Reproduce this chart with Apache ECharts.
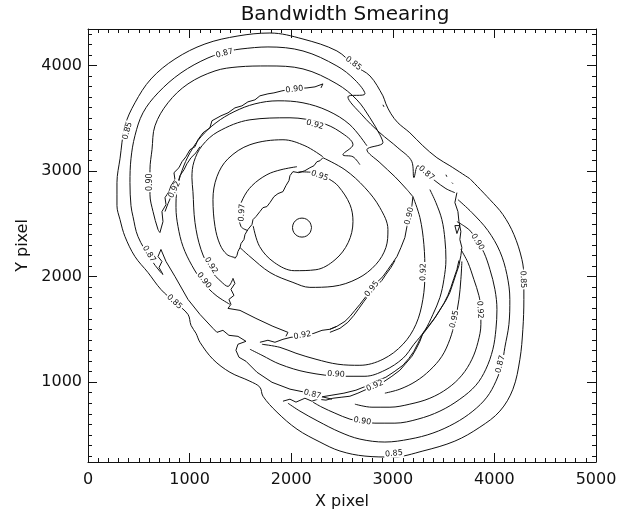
<!DOCTYPE html>
<html><head><meta charset="utf-8">
<script src="https://cdn.jsdelivr.net/npm/echarts@6/dist/echarts.min.js"></script>
<style>html,body{margin:0;padding:0;background:#fff}#c{width:630px;height:515px}</style>
</head><body><div id="c"></div>
<script>
const titleText = 'Bandwidth Smearing';
const xName = 'X pixel';
const yName = 'Y pixel';
const xRange = [0, 5000];
const yRange = [244, 4345];

// contour polylines, data coordinates [x, y]
const c085_outer = [[3759,2927],[3562,3050],[3434,3126],[3296,3239],[3168,3362],[3050,3457],[2982,3542],[2932,3636],[2903,3712],[2775,3901],[2627,3995],[2450,4137],[2116,4250],[1791,4307],[1476,4279],[1151,4203],[856,4061],[620,3872],[462,3646],[364,3428],[315,3116],[285,2890],[285,2672],[315,2540],[364,2379],[462,2190],[590,2039],[718,1878],[856,1756],[984,1642],[1014,1538],[1063,1463],[1102,1378],[1230,1217],[1397,1094],[1594,1009],[1692,952],[1722,867],[1860,716],[2057,555],[2283,433],[2480,348],[2726,300],[3001,291],[3296,348],[3611,442],[3857,574],[4054,726],[4182,933],[4251,1217],[4280,1500],[4290,1784],[4290,1992],[4271,2162],[4192,2398],[4084,2587],[3956,2729],[3759,2927]];
const c087_left = [[738,2020],[708,2049],[620,2162],[492,2379],[443,2568],[423,2672],[413,2890],[423,3116],[462,3334],[541,3551],[689,3740],[915,3929],[1181,4071],[1397,4137],[1506,4156],[1771,4175],[2116,4137],[2450,3995],[2627,3863],[2726,3731],[2558,3702],[2696,3532],[2873,3362],[3050,3220],[3188,3088],[3208,2937],[3247,3050],[3316,2984],[3414,2909],[3523,2833],[3611,2795]];
const c090_left = [[708,2417],[689,2446],[640,2616],[610,2776],[610,2890],[610,3012],[630,3202],[659,3428],[787,3646],[984,3825],[1250,3948],[1476,3986],[1771,3995],[2116,3967],[2450,3825],[2647,3674],[2775,3504],[2873,3343],[2903,3268],[2745,3202],[2873,3079],[3021,2946],[3139,2824],[3198,2757]];
const c090_edge = [[708,2417],[738,2521],[728,2616],[768,2682],[758,2748],[797,2805],[817,2861],[856,2918],[846,2984],[895,3031],[925,3088],[964,3135],[1004,3202],[1053,3230],[1082,3296],[1132,3362],[1200,3409],[1220,3476],[1309,3523],[1378,3551],[1446,3598],[1515,3617],[1574,3655],[1643,3674],[1692,3712],[1771,3731],[1830,3740],[1909,3759],[2017,3778],[2155,3787],[2234,3797],[2312,3825],[2293,3787]];
const c092_edge = [[758,2616],[787,2691],[817,2757],[846,2824],[886,2890],[905,2956],[945,3012],[974,3069],[1014,3126],[1063,3173],[1102,3230]];
const c090_inner = [[2745,3239],[2578,3438],[2362,3570],[2116,3646],[1870,3665],[1643,3636],[1437,3561],[1260,3457],[1112,3324],[1004,3173],[925,3003],[876,2824],[866,2653],[886,2474],[935,2285],[1023,2105],[1132,1945],[1260,1822],[1397,1737]];
const c092_inner = [[2676,3060],[2608,3135],[2509,3154],[2608,3249],[2480,3372],[2293,3457],[1988,3504],[1594,3485],[1279,3372],[1122,3239],[1043,3088],[1023,2937],[1033,2805],[1053,2512],[1112,2257],[1210,2058],[1309,1954],[1378,1907],[1427,1983]];
const c095_inner = [[2312,3135],[2135,3239],[1919,3296],[1594,3249],[1378,3116],[1269,2946],[1230,2729],[1250,2474],[1299,2304],[1368,2209],[1446,2181]];
const c097_inner = [[2057,3041],[1899,3012],[1761,2965],[1614,2861],[1525,2738],[1486,2606],[1506,2474],[1574,2436]];
const edge_centre = [[2312,3126],[2283,3097],[2253,3088],[2224,3050],[2184,3031],[2135,3003],[2076,2984],[2017,2994],[1988,2956],[1978,2909],[1948,2861],[1919,2805],[1870,2786],[1830,2757],[1791,2701],[1761,2663],[1722,2653],[1692,2616],[1653,2568],[1624,2540],[1614,2493],[1574,2446],[1545,2398],[1535,2351],[1506,2313],[1496,2275],[1476,2238],[1466,2200],[1446,2171]];
const c099_core = [[2200,2464],[2187,2509],[2153,2542],[2106,2554],[2059,2542],[2025,2509],[2013,2464],[2025,2419],[2059,2386],[2106,2374],[2153,2386],[2187,2419],[2200,2464]];
const c095_core = [[2072,2992],[2184,2989],[2284,2965],[2376,2922],[2464,2856],[2578,2683],[2608,2521],[2561,2322],[2431,2159],[2243,2065],[2030,2056],[1833,2134],[1689,2285],[1626,2480]];
const c092_core = [[2312,3126],[2529,3012],[2726,2842],[2873,2653],[2952,2446],[2932,2275],[2834,2115],[2657,1983],[2411,1907],[2184,1898],[2017,1945],[1791,2039],[1594,2190],[1496,2275]];
const c092_mid_edge = [[1692,1378],[1771,1397],[1840,1378],[1919,1406],[1998,1425],[2106,1434],[2224,1463],[2303,1491],[2381,1501],[2450,1529]];
const c095_mid_edge = [[2381,1501],[2450,1529],[2529,1576],[2578,1623],[2627,1680],[2676,1737],[2736,1812],[2795,1898],[2854,1954],[2903,2001],[2952,2067],[3001,2134],[3041,2190]];
const c090_mid_edge = [[3041,2190],[3080,2275],[3119,2370],[3139,2474],[3168,2587],[3188,2672],[3198,2757]];
const mid_edge_b = [[2381,1472],[2480,1510],[2558,1567],[2617,1633],[2667,1699],[2716,1765],[2775,1841],[2834,1907],[2893,1964],[2932,2020],[2982,2086],[3021,2152]];
const c092_mid = [[3198,2757],[3267,2559],[3306,2304],[3316,2039],[3296,1784],[3228,1548],[3100,1359],[2903,1217],[2676,1160],[2460,1170],[2244,1217],[2047,1274],[1889,1330],[1712,1359]];
const c090_mid = [[1594,1312],[1712,1255],[1889,1170],[2155,1094],[2509,1056],[2726,1056],[2922,1113],[3100,1226],[3208,1359],[3316,1491],[3395,1642],[3464,1803],[3503,1973],[3523,2162],[3513,2351],[3483,2540],[3424,2701],[3365,2824]];
const c087_low = [[718,2257],[768,2143],[856,2001],[984,1784],[1102,1642],[1230,1510],[1269,1472],[1328,1491],[1387,1444],[1476,1434],[1555,1387],[1476,1359],[1456,1302],[1486,1236],[1555,1198],[1663,1094],[1811,999],[1988,934],[2135,905],[2204,886],[2283,867],[2401,839]];
const edge_left = [[738,2020],[699,2086],[728,2143],[689,2190],[718,2257]];
const edge_low = [[1427,1983],[1446,1935],[1407,1879],[1437,1822],[1387,1784],[1407,1737],[1378,1699]];
const low_step = [[1378,1699],[1496,1680],[1653,1604],[1820,1529],[1968,1472],[1948,1434]];
const edge_b = [[1919,820],[1988,839],[2047,811],[2135,848],[2204,820],[2263,839],[2342,830],[2411,848],[2499,858],[2578,867],[2657,896],[2745,934],[2824,971],[2903,999],[2991,1056],[3070,1113],[3129,1179],[3188,1245],[3228,1312],[3267,1387],[3296,1463],[3365,1548],[3424,1623],[3474,1699],[3523,1775],[3562,1850],[3592,1935],[3621,2020],[3651,2105],[3670,2200],[3680,2275],[3660,2351],[3670,2427],[3651,2521],[3641,2616],[3611,2701],[3631,2795]];
const edge_b2 = [[2283,858],[2401,877],[2519,896],[2637,924],[2736,962],[2834,1009],[2932,1047],[3021,1104],[3100,1160],[3159,1226],[3208,1293],[3247,1368],[3287,1444],[3346,1519],[3405,1595],[3454,1671],[3503,1746],[3542,1822],[3572,1898],[3601,1983],[3631,2067],[3651,2153]];
const c087_b = [[3641,2729],[3779,2606],[3936,2436],[4054,2238],[4123,2020],[4152,1784],[4143,1548],[4103,1330],[4074,1170],[4015,1009],[3926,858],[3788,726],[3611,612],[3395,518],[3168,461],[2922,433],[2676,461],[2480,527],[2263,631],[2086,726],[1968,801]];
const c090_b = [[3631,2521],[3710,2474],[3769,2427],[3828,2341],[3897,2228],[3956,2067],[4005,1879],[4025,1689],[4015,1501],[3985,1312],[3916,1123],[3818,971],[3660,839],[3464,726],[3247,650],[3021,612],[2824,612],[2696,631],[2578,650],[2430,707],[2303,763],[2214,811]];
const c092_b = [[3670,2257],[3739,2134],[3798,1973],[3847,1822],[3867,1689],[3867,1548],[3838,1378],[3779,1217],[3680,1066],[3542,943],[3365,848],[3168,792],[2972,763],[2795,763],[2627,792]];
const c095_b = [[3680,2143],[3670,1973],[3651,1784],[3611,1576],[3562,1406],[3483,1245],[3365,1113],[3228,1009],[3070,934],[2922,896]];
const speck_b = [[3611,2483],[3660,2483],[3631,2408],[3611,2483]];
const speck_1 = [[2903,3627],[2913,3608]];
const speck_2 = [[3523,2965],[3532,2946]];
const speck_3 = [[3582,2890],[3592,2880]];

// level label, points, label anchor indices, curved or jagged
const lines = [
  {level:'0.85', pts:c085_outer, labels:[10,19,28,43,52], smooth:true},
  {level:'0.87', pts:c087_left, labels:[2,13,27], smooth:true},
  {level:'0.90', pts:c090_left, labels:[4], smooth:true},
  {level:'0.90', pts:c090_edge, labels:[28], smooth:false},
  {level:'0.92', pts:c092_edge, labels:[3], smooth:false},
  {level:'0.90', pts:c090_inner, labels:[16], smooth:true},
  {level:'0.92', pts:c092_inner, labels:[5,15], smooth:true},
  {level:'0.95', pts:c095_inner, labels:[], smooth:true},
  {level:'0.97', pts:c097_inner, labels:[5], smooth:true},
  {level:'0.97', pts:edge_centre, labels:[], smooth:false},
  {level:'0.99', pts:c099_core, labels:[], smooth:true},
  {level:'0.95', pts:c095_core, labels:[2], smooth:true},
  {level:'0.92', pts:c092_core, labels:[], smooth:true},
  {level:'0.92', pts:c092_mid_edge, labels:[5], smooth:false},
  {level:'0.95', pts:c095_mid_edge, labels:[7], smooth:false},
  {level:'0.90', pts:c090_mid_edge, labels:[4], smooth:false},
  {level:'0.95', pts:mid_edge_b, labels:[], smooth:false},
  {level:'0.92', pts:c092_mid, labels:[3], smooth:true},
  {level:'0.90', pts:c090_mid, labels:[4], smooth:true},
  {level:'0.87', pts:c087_low, labels:[19], smooth:false},
  {level:'0.87', pts:edge_left, labels:[], smooth:false},
  {level:'0.90', pts:edge_low, labels:[], smooth:false},
  {level:'0.90', pts:low_step, labels:[], smooth:false},
  {level:'0.92', pts:edge_b, labels:[12], smooth:false},
  {level:'0.95', pts:edge_b2, labels:[], smooth:false},
  {level:'0.87', pts:c087_b, labels:[8], smooth:true},
  {level:'0.90', pts:c090_b, labels:[3,17], smooth:true},
  {level:'0.92', pts:c092_b, labels:[4], smooth:true},
  {level:'0.95', pts:c095_b, labels:[3], smooth:true},
  {level:'0.90', pts:speck_b, labels:[], smooth:false},
  {level:'0.85', pts:speck_1, labels:[], smooth:false},
  {level:'0.85', pts:speck_2, labels:[], smooth:false},
  {level:'0.85', pts:speck_3, labels:[], smooth:false}
];

const chart = echarts.init(document.getElementById('c'));
const FONT = 'DejaVu Sans';
const INK = '#111';
const axisCommon = {
  axisLine:{show:true, onZero:false, lineStyle:{color:INK, width:1}},
  axisTick:{show:true, inside:true, length:9, lineStyle:{color:INK}},
  minorTick:{show:true, splitNumber:10, length:4, lineStyle:{color:INK}},
  splitLine:{show:false}
};
const plain = v => String(v);
const series = lines.map(l => ({
  type:'line', data:l.pts, showSymbol:false, symbol:'none', smooth:l.smooth ? 0.35 : false,
  lineStyle:{color:INK, width:1}, silent:true, animation:false, z:2,
  markLine:{
    symbol:'none', silent:true, animation:false, z:6,
    lineStyle:{color:'rgba(0,0,0,0)', width:1, opacity:1},
    label:{show:true, position:'insideMiddle', formatter:l.level, color:INK, opacity:1,
      fontFamily:FONT, fontSize:8, backgroundColor:'#fff', padding:[0,1]},
    data:l.labels.map(i => [{coord:l.pts[i-1]},{coord:l.pts[i+1]}])
  }
}));
chart.setOption({
  animation:false,
  backgroundColor:'#fff',
  title:{text:titleText, left:340, top:0, textAlign:'center',
    textStyle:{fontFamily:FONT, fontWeight:'normal', fontSize:20, color:INK}},
  grid:{left:88, right:34, top:29, bottom:52},
  xAxis:[
    Object.assign({type:'value', min:xRange[0], max:xRange[1], interval:1000, position:'bottom',
      name:xName, nameLocation:'middle', nameGap:32,
      nameTextStyle:{fontFamily:FONT, fontSize:16, color:INK},
      axisLabel:{fontFamily:FONT, fontSize:16, color:INK, margin:10, formatter:plain}}, axisCommon),
    Object.assign({type:'value', min:xRange[0], max:xRange[1], interval:1000, position:'top',
      axisLabel:{show:false}}, axisCommon)
  ],
  yAxis:[
    Object.assign({type:'value', min:yRange[0], max:yRange[1], splitNumber:4, position:'left',
      name:yName, nameLocation:'middle', nameGap:45,
      nameTextStyle:{fontFamily:FONT, fontSize:16, color:INK},
      axisLabel:{fontFamily:FONT, fontSize:16, color:INK, margin:6, formatter:plain,
        showMinLabel:false, showMaxLabel:false}}, axisCommon),
    Object.assign({type:'value', min:yRange[0], max:yRange[1], splitNumber:4, position:'right',
      axisLabel:{show:false}}, axisCommon)
  ],
  series:series
});
</script></body></html>
